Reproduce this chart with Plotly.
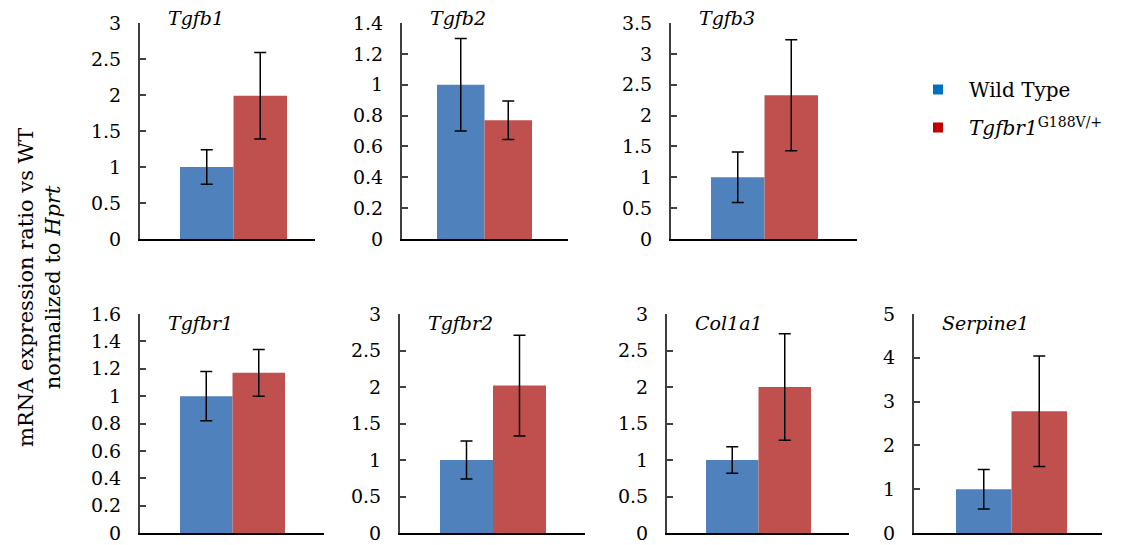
import plotly.graph_objects as go

# ---------------- data ----------------
genes = ["Tgfb1", "Tgfb2", "Tgfb3", "Tgfbr1", "Tgfbr2", "Col1a1", "Serpine1"]
wt_vals = [1.00, 1.00, 1.00, 1.00, 1.00, 1.00, 1.00]
wt_err = [0.24, 0.30, 0.41, 0.18, 0.26, 0.18, 0.45]
mut_vals = [1.99, 0.77, 2.33, 1.17, 2.02, 2.00, 2.78]
mut_err = [0.60, 0.125, 0.90, 0.17, 0.69, 0.73, 1.26]
y_max = [3, 1.4, 3.5, 1.6, 3, 3, 5]
y_step = [0.5, 0.2, 0.5, 0.2, 0.5, 0.5, 1]
series_names = ["Wild Type", "<i>Tgfbr1</i><sup>G188V/+</sup>"]

# ---------------- layout constants (pixels, page coordinates) ----------------
OFF = 8                      # page body margin of the html page
W, H = 1126 - OFF, 545 - OFF
# axis line left / right ends, bar group center, single bar width
panel_x = [(140, 315, 233.5, 53.5), (402, 568, 484.5, 47.5), (671, 857, 764.5, 53.5),
           (140, 324, 232.5, 52.5), (400, 585, 493, 53), (667, 849, 758.5, 52.5),
           (914, 1102, 1011.5, 55.5)]
row_y = [(23, 239), (314, 533)]
panel_row = [0, 0, 0, 1, 1, 1, 1]


def fx(px):
    return (px - OFF) / W


def fy(py):
    return 1 - (py - OFF) / H


BAR_BLUE = "#4F81BD"
BAR_RED = "#C0504D"
LEG_BLUE = "#0070C0"
LEG_RED = "#C00000"
FONT = "DejaVu Serif"

fig = go.Figure()
layout = dict(
    template="none",
    width=W, height=H, margin=dict(l=0, r=0, t=0, b=0, pad=0, autoexpand=False),
    paper_bgcolor="white", plot_bgcolor="white",
    barmode="overlay", showlegend=True,
    font=dict(family=FONT, size=19, color="black"),
)
annotations = []

for i, g in enumerate(genes):
    xl, xr, cpx, bw = panel_x[i]
    ytop, ybot = row_y[panel_row[i]]
    axlen = xr - xl
    w = bw / axlen
    c = (cpx - xl) / axlen - 0.5
    xa = "x" if i == 0 else f"x{i+1}"
    ya = "y" if i == 0 else f"y{i+1}"
    fig.add_trace(go.Bar(
        x=[g], y=[wt_vals[i]], xaxis=xa, yaxis=ya,
        width=[w], offset=[c - w], marker=dict(color=BAR_BLUE, line=dict(width=0)),
        error_y=dict(type="data", array=[wt_err[i]], color="black", thickness=1.5, width=6),
        showlegend=False, name="Wild Type",
    ))
    fig.add_trace(go.Bar(
        x=[g], y=[mut_vals[i]], xaxis=xa, yaxis=ya,
        width=[w], offset=[c], marker=dict(color=BAR_RED, line=dict(width=0)),
        error_y=dict(type="data", array=[mut_err[i]], color="black", thickness=1.5, width=6),
        showlegend=False, name="Tgfbr1 G188V/+",
    ))
    xkey = "xaxis" if i == 0 else f"xaxis{i+1}"
    ykey = "yaxis" if i == 0 else f"yaxis{i+1}"
    layout[xkey] = dict(
        domain=[fx(xl), fx(xr)], anchor=ya, type="category", range=[-0.5, 0.5],
        showticklabels=False, ticks="", showgrid=False, zeroline=False, automargin=False,
        showline=True, linecolor="black", linewidth=1.5, fixedrange=True,
    )
    layout[ykey] = dict(
        domain=[fy(ybot), fy(ytop)], anchor=xa, range=[0, y_max[i]],
        dtick=y_step[i], tick0=0, ticks="inside", ticklen=6, tickwidth=1.5,
        tickcolor="#404040", showline=True, linecolor="#404040", linewidth=2,
        showgrid=False, zeroline=False, ticklabelstandoff=13, automargin=False,
        tickfont=dict(family=FONT, size=19, color="black"),
    )
    annotations.append(dict(
        text=f"<i>{g}</i>", xref=f"{xa} domain", yref=f"{ya} domain",
        x=0, y=1, xanchor="left", yanchor="middle", xshift=26,
        yshift=5 if panel_row[i] == 0 else -9, showarrow=False,
        font=dict(family=FONT, size=19, color="black"),
    ))

# legend markers
fig.add_trace(go.Scatter(x=[None], y=[None], mode="markers", name=series_names[0],
                         marker=dict(symbol="square", size=10, color=LEG_BLUE),
                         legendgroup="a"))
fig.add_trace(go.Scatter(x=[None], y=[None], mode="markers", name=series_names[1],
                         marker=dict(symbol="square", size=10, color=LEG_RED),
                         legendgroup="b"))

annotations.append(dict(
    text="mRNA expression ratio vs WT<br>normalized to <i>Hprt</i>",
    xref="paper", yref="paper", x=fx(39), y=fy(288), xanchor="center", yanchor="middle",
    textangle=-90, showarrow=False, font=dict(family=FONT, size=21, color="black"),
))

layout["annotations"] = annotations
layout["legend"] = dict(
    x=fx(907), y=fy(70), xanchor="left", yanchor="top",
    font=dict(family=FONT, size=20, color="black"), itemwidth=52,
    tracegroupgap=9, traceorder="grouped", bgcolor="rgba(0,0,0,0)",
)
fig.update_layout(**layout)
fig.write_html("out.html")
